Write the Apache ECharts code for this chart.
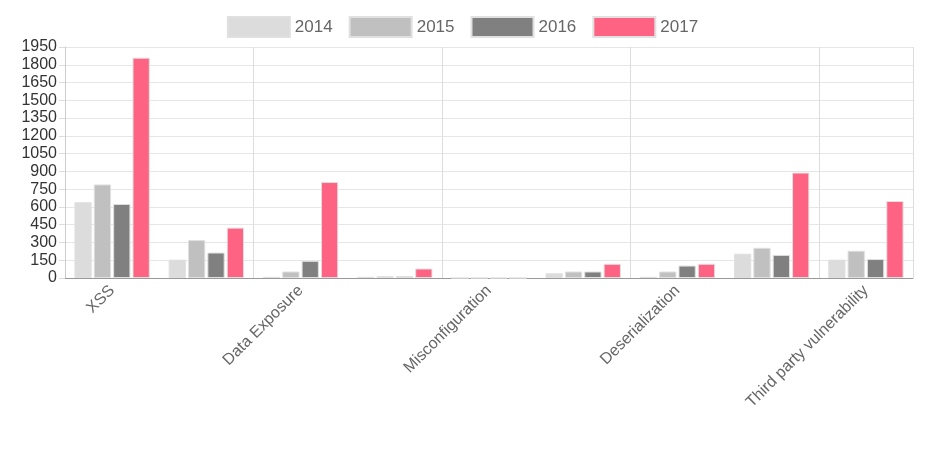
<!DOCTYPE html>
<html><head><meta charset="utf-8">
<script src="https://cdn.jsdelivr.net/npm/echarts@6/dist/echarts.min.js"></script>
<style>html,body{margin:0;padding:0;background:#fff}#c{width:925px;height:462px}</style>
</head><body><div id="c"></div>
<script>
const categories = ['XSS','Injection','Data Exposure','XXE','Misconfiguration','Broken Access Control','Deserialization','Broken Authentication','Third party vulnerability'];
const years = ['2014','2015','2016','2017'];
const s2014 = [640,155,10,10,0,40,10,205,155];
const s2015 = [790,320,55,15,0,55,55,255,230];
const s2016 = [625,215,145,15,0,55,105,195,160];
const s2017 = [1860,425,810,80,0,120,120,890,650];
const colors = ['#dcdcdc','#c0c0c0','#808080','#ff6384'];
const data = [s2014,s2015,s2016,s2017];
const chart = echarts.init(document.getElementById('c'));
chart.setOption({
  animation:false,
  legend:{top:11,itemWidth:62,itemHeight:20,itemGap:16,icon:'rect',
    textStyle:{fontSize:17,color:'#666',fontFamily:'Arial, Liberation Sans'}},
  grid:{left:65,right:12,top:47,bottom:184},
  xAxis:{type:'category',data:categories,
    axisLine:{lineStyle:{color:'#999'}},axisTick:{show:false},
    axisLabel:{interval:1,rotate:45,fontSize:16,color:'#666',fontFamily:'Arial, Liberation Sans',margin:10},
    splitLine:{show:true,interval:1,lineStyle:{color:'#ddd'}}},
  yAxis:{type:'value',min:0,max:1950,interval:150,
    axisLine:{show:true,lineStyle:{color:'#ccc'}},axisTick:{show:true,length:6,lineStyle:{color:'#ddd'}},
    axisLabel:{fontSize:16,color:'#333',fontFamily:'Arial, Liberation Sans',margin:8,formatter:v=>String(v)},
    splitLine:{lineStyle:{color:'#e6e6e6'}}},
  series: years.map((y,i)=>({name:y,type:'bar',data:data[i],barGap:'12%',barCategoryGap:'20%',
    itemStyle:{color:colors[i],borderColor:'#e0e0e0',borderWidth:1}}))
});
</script></body></html>
